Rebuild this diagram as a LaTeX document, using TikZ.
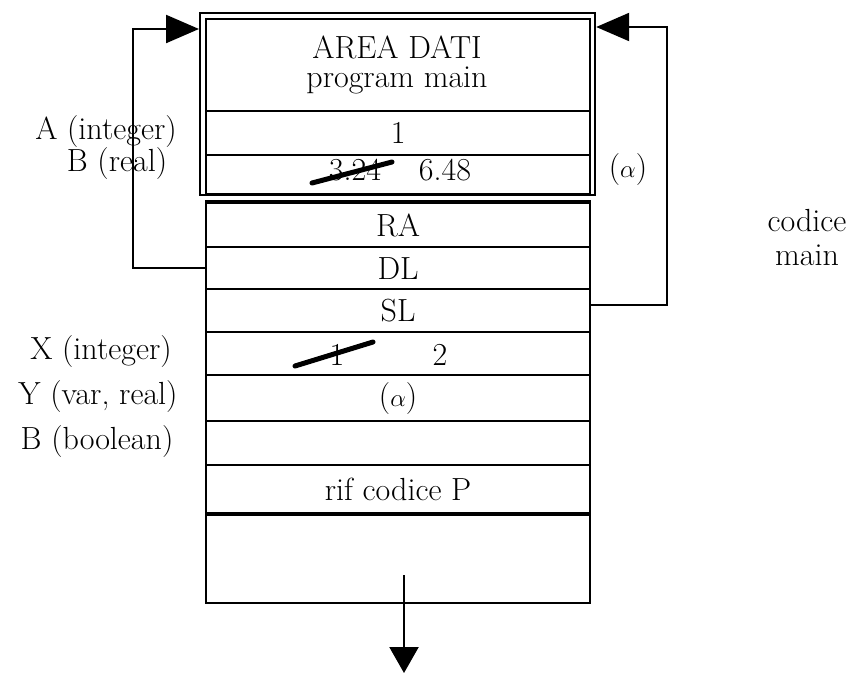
\documentclass[tikz,border=0pt]{standalone}
\usepackage{fontspec}
\usetikzlibrary{arrows.meta}
\begin{document}
\begin{tikzpicture}[x=1pt,y=-1pt,
  every node/.style={font=\fontsize{32}{36}\selectfont, inner sep=0pt},
  cell/.style={draw, line width=2.2pt, minimum width=384pt, anchor=north west},
  frm/.style={draw, line width=2.2pt, minimum width=395pt, minimum height=182pt, anchor=north west},
  conn/.style={line width=2.2pt, -{Triangle[length=33pt,width=28pt]}},
  strike/.style={line width=5pt, line cap=round}]
\useasboundingbox (0,0) rectangle (856,675);
% outer frame of data area
\node[frm] (frame) at (199,12) {};
% data area rows
\node[cell, minimum height=92pt] (title) at (205,18) {};
\node (t1) at (397,47) {AREA DATI};
\node (t2) at (397,80) {program main};
\node[cell, minimum height=44pt] (ra1) at (205,110) {1};
\node[cell, minimum height=39pt] (rb1) at (205,154) {};
\node (old1) at (355,170) {3.24};
\node (new1) at (445,170) {6.48};
\draw[strike] (312,183) -- (392,162);
% activation record rows
\node[cell, minimum height=44pt] (ra) at (205,202) {RA};
\node[cell, minimum height=42pt] (dl) at (205,246) {DL};
\node[cell, minimum height=43pt] (sl) at (205,288) {SL};
\node[cell, minimum height=43pt] (xr) at (205,331) {};
\node (oldx) at (337,355) {1};
\node (newx) at (440,355) {2};
\draw[strike] (295,366) -- (373,342);
\node[cell, minimum height=46pt] (yr) at (205,374) {(\(\alpha\))};
\node[cell, minimum height=44pt] (br) at (205,420) {};
\node[cell, minimum height=48pt] (rif) at (205,464) {rif codice P};
\node[cell, minimum height=90pt] (free) at (205,512) {};
\draw[line width=3.5pt] (ra.north west) -- (ra.north east);
\draw[line width=3pt] (rif.south west) -- (rif.south east);
% left labels
\node (la) at (106,132) {A (integer)};
\node (lb) at (117,164) {B (real)};
\node (lx) at (101,352) {X (integer)};
\node (ly) at (98,397) {Y (var, real)};
\node (lbb) at (97,442) {B (boolean)};
% right labels
\node (alpha) at (628,170) {(\(\alpha\))};
\node[align=center, font=\fontsize{32}{34}\selectfont] (cod) at (807,238) {codice\\main};
% connectors
\coordinate (lt) at (133,29);
\coordinate (rt) at (667,27);
\coordinate (bs) at (404,575);
\coordinate (bt) at (404,673);
\draw[conn] (dl.west) -| (lt) -- (frame.west |- lt);
\draw[conn] ([yshift=6pt]sl.east) -| (rt) -- (frame.east |- rt);
\draw[line width=2.2pt, -{Triangle[length=26pt,width=29pt]}] (bs) -- (bt);
\end{tikzpicture}
\end{document}
